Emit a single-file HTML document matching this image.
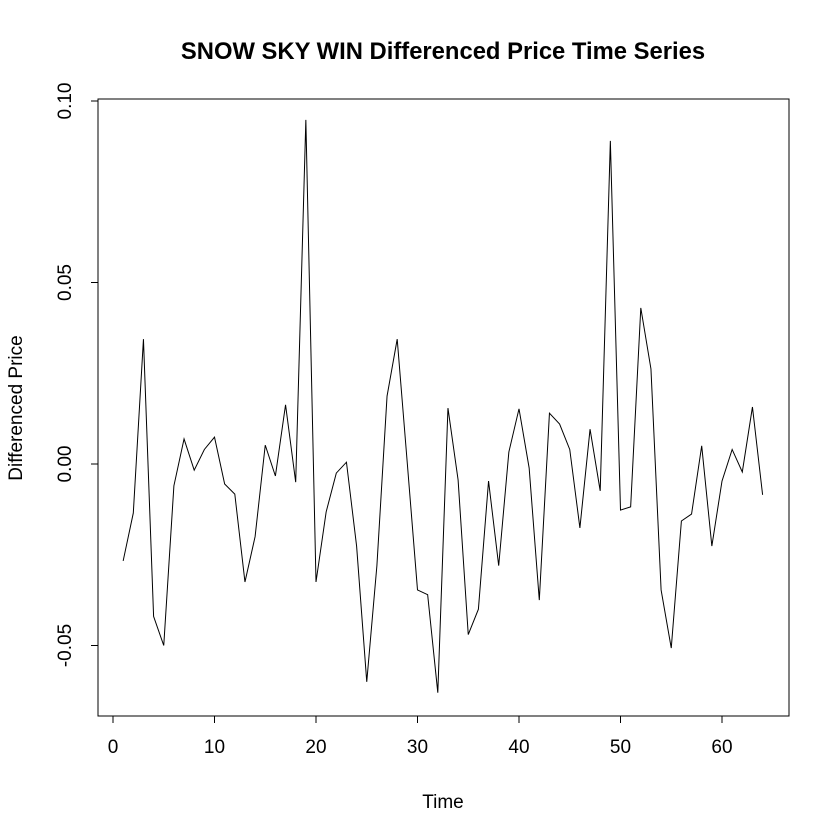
<!DOCTYPE html>
<html><head><meta charset="utf-8"><style>
body{margin:0;background:#fff}
svg{display:block;font-family:"Liberation Sans",Arial,sans-serif}
</style></head><body>
<svg id="chart" width="840" height="840" viewBox="0 0 840 840">
<rect width="840" height="840" fill="#fff"/>
<text x="443" y="59" text-anchor="middle" font-size="23.8" font-weight="bold">SNOW SKY WIN Differenced Price Time Series</text>
<rect x="98" y="99" width="691" height="617" fill="none" stroke="#000" stroke-width="1"/>
<g id="xaxis"></g>
<g id="yaxis"></g>
<text x="443" y="808" text-anchor="middle" font-size="19">Time</text>
<text transform="translate(22,408) rotate(-90)" text-anchor="middle" font-size="19">Differenced Price</text>
<path id="series" fill="none" stroke="#000" stroke-width="1"/>
</svg>
<script>
const values = [-0.0267,-0.0135,0.0344,-0.042,-0.050,-0.006,0.0069,-0.0017,0.004,0.0074,-0.0055,-0.0083,-0.0325,-0.020,0.0052,-0.0033,0.0163,-0.005,0.0948,-0.0325,-0.0132,-0.0025,0.0005,-0.0226,-0.060,-0.028,0.0187,0.0344,0,-0.0347,-0.036,-0.063,0.0154,-0.0044,-0.047,-0.040,-0.0047,-0.028,0.0033,0.0152,-0.0011,-0.0375,0.014,0.011,0.004,-0.0176,0.0096,-0.0074,0.089,-0.0127,-0.0118,0.043,0.0262,-0.0347,-0.0507,-0.0157,-0.0138,0.005,-0.0226,-0.0047,0.004,-0.0022,0.0157,-0.0085];
const xTicks = [0,10,20,30,40,50,60];
const yTicks = [-0.05,0,0.05,0.10];
const yTickLabels = ["-0.05","0.00","0.05","0.10"];
const NS="http://www.w3.org/2000/svg";
const xs = t => 113 + (t-0)*10.15;
const ys = v => 464 - v*3630;
let d='';
values.forEach((v,i)=>{d+=(i?'L':'M')+xs(i+1).toFixed(2)+','+ys(v).toFixed(2);});
document.getElementById('series').setAttribute('d',d);
const xa=document.getElementById('xaxis');
function mk(tag,attrs){const e=document.createElementNS(NS,tag);for(const k in attrs)e.setAttribute(k,attrs[k]);return e;}
const xl=mk('line',{x1:xs(xTicks[0]),x2:xs(xTicks[xTicks.length-1]),y1:716,y2:716,stroke:'#000'});


xa.appendChild(xl);
xTicks.forEach(t=>{
 const l=mk('line',{x1:xs(t),x2:xs(t),y1:716,y2:723,stroke:'#000'});
 
 
 xa.appendChild(l);
 const tx=mk('text',{x:xs(t),y:753,'text-anchor':'middle','font-size':'19'});
 
 
 tx.textContent=t;xa.appendChild(tx);
});
const ya=document.getElementById('yaxis');
const yl=mk('line',{x1:98,x2:98,y1:ys(yTicks[0]),y2:ys(yTicks[yTicks.length-1]),stroke:'#000'});


ya.appendChild(yl);
yTicks.forEach((v,i)=>{
 const l=mk('line',{x1:91,x2:98,y1:ys(v),y2:ys(v),stroke:'#000'});
 
 
 ya.appendChild(l);
 const tx=mk('text',{transform:'translate(71,'+ys(v)+') rotate(-90)','text-anchor':'middle','font-size':'19'});
 
 
 tx.textContent=yTickLabels[i];ya.appendChild(tx);
});
</script>
</body></html>
